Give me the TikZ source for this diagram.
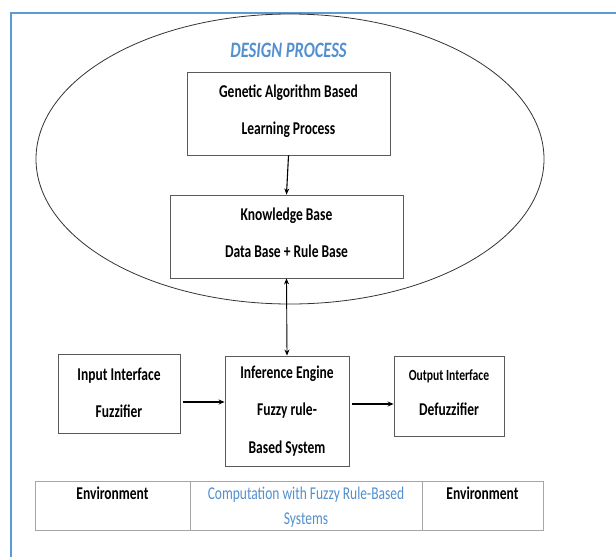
\documentclass[tikz,border=0pt]{standalone}
\usepackage{fontspec}
\setmainfont{Carlito}[FakeStretch=0.75]
\usetikzlibrary{shapes.geometric,arrows.meta}
\definecolor{frameblue}{HTML}{5B9BD5}
\definecolor{textblue}{HTML}{5390CF}
\definecolor{boxgray}{HTML}{5A5A5A}
\definecolor{tablegray}{HTML}{A6A6A6}
\tikzset{
  procbox/.style={draw=boxgray, line width=0.9pt, inner sep=0pt, align=center,
    font=\bfseries\fontsize{18}{37}\selectfont},
  cell/.style={draw=tablegray, line width=0.9pt, inner sep=0pt, anchor=north west},
  celltext/.style={align=center, inner sep=0pt, font=\fontsize{18}{25}\selectfont},
  arr/.style={-{Stealth[length=6pt,width=5pt]}, line width=1.1pt},
  darr/.style={{Stealth[length=6pt,width=5pt]}-{Stealth[length=6pt,width=5pt]}, line width=0.9pt},
}
\begin{document}
\begin{tikzpicture}[x=1pt,y=-1pt]
\useasboundingbox (0,0) rectangle (616,557);
\fill[white] (0,0) rectangle (616,557);
% frame
\draw[frameblue, line width=2pt] (11,557) -- (11,13) -- (616,13);
% design process ellipse
\node (design) [ellipse, draw=black!80, line width=0.8pt, minimum width=508pt, minimum height=290pt, inner sep=0pt] at (290,159) {};
\node (title) at (288.5,50) {\color{textblue}\bfseries\itshape\fontsize{22}{24}\selectfont DESIGN PROCESS};
% boxes
\node (ga) [procbox, minimum width=203pt, minimum height=83pt] at (288.5,113.5)
  {Genetic Algorithm Based\\Learning Process\rule[-8pt]{0pt}{8pt}};
\node (kb) [procbox, fill=white, minimum width=233pt, minimum height=83pt] at (286.5,236.5)
  {Knowledge Base\\Data Base + Rule Base\rule[-8pt]{0pt}{8pt}};
\node (in) [procbox, minimum width=122pt, minimum height=79pt] at (119,393.5)
  {Input Interface\\Fuzzifier\rule[-2pt]{0pt}{2pt}};
\node (inf) [procbox, minimum width=124pt, minimum height=110pt, font=\bfseries\fontsize{18}{37.5}\selectfont] at (287,411)
  {Inference Engine\\Fuzzy rule-\\Based System};
\node (out) [procbox, minimum width=110pt, minimum height=80pt, font=\bfseries\fontsize{15.5}{35}\selectfont] at (449,396)
  {Output Interface\\{\fontsize{18}{35}\selectfont Defuzzifier}\rule[-6pt]{0pt}{6pt}};
% connectors
\draw[arr] (ga.south) -- (kb.north);
\draw[darr] (kb.south) -- (inf.north);
\draw[arr, shorten <=3pt] ([yshift=-8.5pt]in.east) -- ([yshift=-8.5pt]in.east -| inf.west);
\draw[arr, shorten <=3pt] ([yshift=7pt]inf.east) -- ([yshift=7pt]inf.east -| out.west);
% table
\node (c1) [cell, minimum width=155pt, minimum height=49pt] at (35,481) {};
\node (c2) [cell, minimum width=232pt, minimum height=49pt] at (190,481) {};
\node (c3) [cell, minimum width=121pt, minimum height=49pt] at (422,481) {};
\node (t1) [celltext, anchor=north] at (112.5,487) {\bfseries Environment};
\node (t2) [celltext, anchor=north, text=textblue] at (306,487) {Computation with Fuzzy Rule-Based\\Systems};
\node (t3) [celltext, anchor=north] at (482.5,487) {\bfseries Environment};
\end{tikzpicture}
\end{document}
